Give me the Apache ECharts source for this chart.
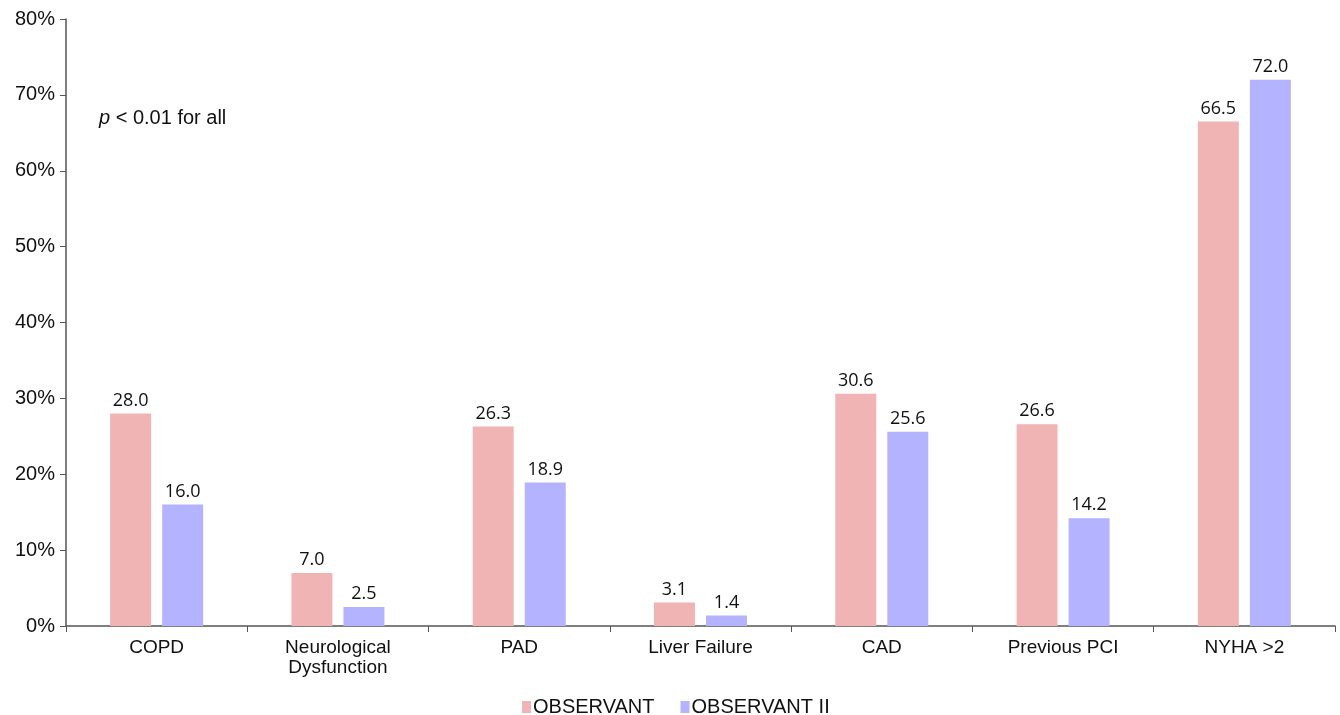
<!DOCTYPE html>
<html><head><meta charset="utf-8">
<script src="https://cdn.jsdelivr.net/npm/echarts@6/dist/echarts.min.js"></script>
<style>html,body{margin:0;padding:0;background:#fff}#c{width:1340px;height:715px}</style>
</head><body><div id="c"></div>
<script>
const categories = ['COPD', 'Neurological\nDysfunction', 'PAD', 'Liver Failure', 'CAD', 'Previous PCI', 'NYHA >2'];
const observant = [28.0, 7.0, 26.3, 3.1, 30.6, 26.6, 66.5];
const observant2 = [16.0, 2.5, 18.9, 1.4, 25.6, 14.2, 72.0];
const seriesNames = ['OBSERVANT', 'OBSERVANT II'];

const chart = echarts.init(document.getElementById('c'));
const labelCfg = {show: true, position: 'top', distance: 4, color: '#111', fontSize: 18, fontFamily: 'Open Sans, Noto Sans, sans-serif', formatter: p => p.value.toFixed(1)};
const sans = 'Liberation Sans, Arial, sans-serif';
chart.setOption({
  animation: false,
  grid: {left: 66, right: 5, top: 19, bottom: 89, containLabel: false},
  legend: {top: 692, left: 517, itemWidth: 9, itemHeight: 12, itemGap: 26,
    icon: 'rect', textStyle: {fontSize: 20, fontFamily: sans, color: '#111', padding: [0, 0, 0, -3]},
    data: seriesNames},
  xAxis: {type: 'category', data: categories,
    axisLine: {lineStyle: {color: '#555', width: 1.5}},
    axisTick: {show: true, length: 6, lineStyle: {color: '#555'}},
    axisLabel: {fontSize: 19, color: '#111', fontFamily: sans, margin: 12, lineHeight: 20}},
  yAxis: {type: 'value', min: 0, max: 80, interval: 10,
    axisLine: {show: true, lineStyle: {color: '#555', width: 1.5}},
    axisTick: {show: true, length: 6, lineStyle: {color: '#555'}},
    splitLine: {show: false},
    axisLabel: {formatter: '{value}%', fontSize: 20, color: '#111', fontFamily: sans, margin: 11}},
  series: [
    {name: seriesNames[0], type: 'bar', data: observant, barWidth: '22.6%', barGap: '27%',
     itemStyle: {color: '#F0B4B4'}, label: labelCfg},
    {name: seriesNames[1], type: 'bar', data: observant2, barWidth: '22.6%',
     itemStyle: {color: '#B3B3FF'}, label: labelCfg}
  ],
  graphic: [{type: 'text', left: 99, top: 108,
    style: {text: '{i|p} < 0.01 for all', rich: {i: {fontStyle: 'italic', fontSize: 20, fontFamily: sans}},
      fontSize: 20, fontFamily: sans, fill: '#111'}}]
});
</script></body></html>
